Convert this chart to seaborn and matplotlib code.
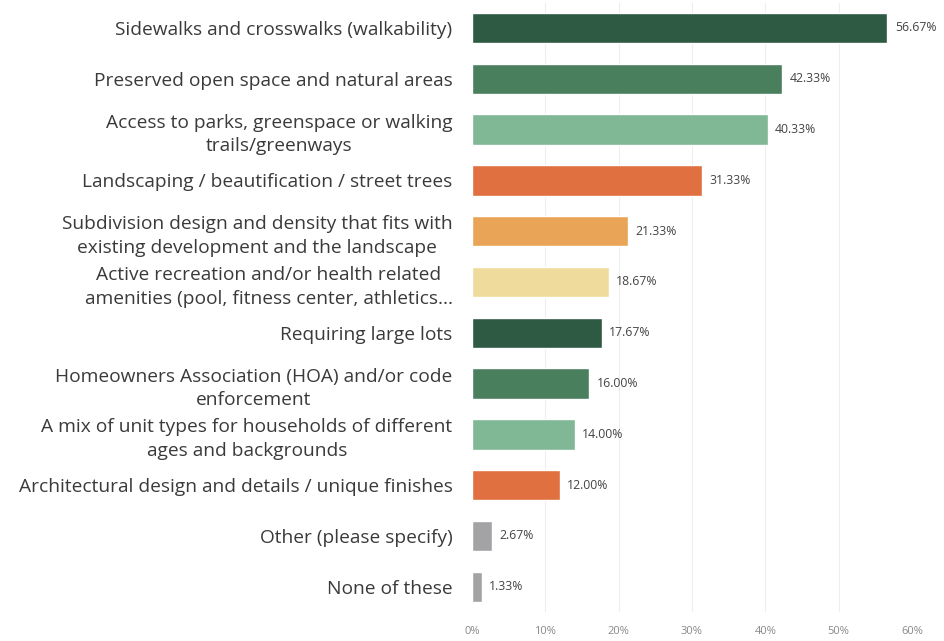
import matplotlib
matplotlib.use("Agg")
import matplotlib.pyplot as plt
import seaborn as sns
import pandas as pd

categories = [
    "Sidewalks and crosswalks (walkability)",
    "Preserved open space and natural areas",
    "Access to parks, greenspace or walking\ntrails/greenways",
    "Landscaping / beautification / street trees",
    "Subdivision design and density that fits with\nexisting development and the landscape",
    "Active recreation and/or health related\namenities (pool, fitness center, athletics...",
    "Requiring large lots",
    "Homeowners Association (HOA) and/or code\nenforcement",
    "A mix of unit types for households of different\nages and backgrounds",
    "Architectural design and details / unique finishes",
    "Other (please specify)",
    "None of these",
]
values = [56.67, 42.33, 40.33, 31.33, 21.33, 18.67, 17.67, 16.00, 14.00, 12.00, 2.67, 1.33]
colors = ["#2e5a44", "#4a7f5e", "#80b896", "#e0703f", "#e9a458", "#efdc9c",
          "#2e5a44", "#4a7f5e", "#80b896", "#e0703f", "#a3a3a6", "#a3a3a6"]
xticks = [0, 10, 20, 30, 40, 50, 60]

df = pd.DataFrame({"cat": categories, "val": values})

sns.set_theme(style="white")
plt.rcParams["font.family"] = ["Open Sans", "DejaVu Sans"]

fig = plt.figure(figsize=(9.44, 6.41), dpi=100)
ax = fig.add_axes([0.5, 0.045, 0.466, 0.951])

sns.barplot(data=df, x="val", y="cat", hue="cat", palette=colors, legend=False,
            width=0.6, ax=ax, saturation=1)

ax.set_xlim(0, 60)
ax.set_ylim(11.5, -0.5)
ax.set_xticks(xticks)
ax.set_xticklabels([f"{t}%" for t in xticks], fontsize=8, color="#888888")
ax.tick_params(axis="x", length=0, pad=10)
ax.tick_params(axis="y", length=0, pad=14)
ax.set_yticks(range(len(categories)))
ax.set_yticklabels(categories, fontsize=13.8, color="#3a3a3a", linespacing=1.4)
for lbl in ax.get_yticklabels():
    lbl.set_multialignment("center")
ax.set_xlabel("")
ax.set_ylabel("")
for s in ax.spines.values():
    s.set_visible(False)
for t in xticks[1:]:
    ax.axvline(t, color="#eeeeee", lw=0.8, zorder=0)

for i, v in enumerate(values):
    ax.text(v + 1.0, i, f"{v:.2f}%", va="center", ha="left", fontsize=8.8, color="#444444")

fig.savefig("out.png", dpi=100)
